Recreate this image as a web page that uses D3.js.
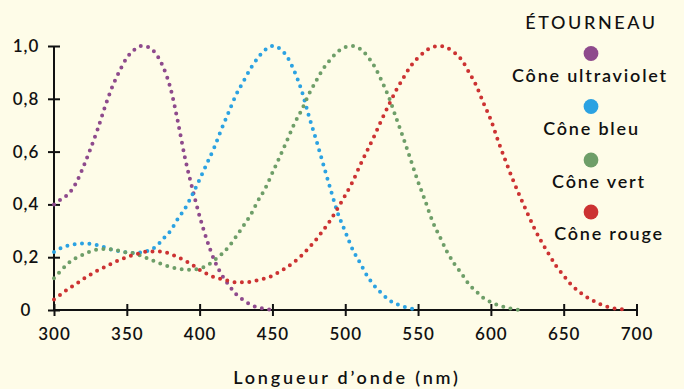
<!DOCTYPE html>
<head>
<meta charset="utf-8">
<script src="https://d3js.org/d3.v7.min.js"></script>
<style>
body {
	margin: 0;
	background: #fefce8;
}
text {
	font-family: Lato, "Noto Sans", sans-serif;
	fill: #111;
}
.axis path, .axis line {
	stroke: #111;
	stroke-width: 2px;
}
.axis text {
	font-size: 17px;
	font-weight: 600;
	letter-spacing: 1px;
}
.curve {
	fill: none;
	stroke-width: 4px;
	stroke-linecap: round;
	stroke-dasharray: 0 7.4;
}
.legend text {
	font-size: 18px;
	font-weight: 600;
	letter-spacing: 1.8px;
	text-anchor: middle;
}
</style>
</head>
<body>
<svg id="chart" width="684" height="389"></svg>
<script>

// wavelengths, 5 nm steps (series stop where they reach zero)
var nm = d3.range(300, 701, 5);

var uv = [0.40, 0.42, 0.44, 0.48, 0.54, 0.61, 0.685, 0.77, 0.845, 0.905, 0.955, 0.985, 1.0, 0.995, 0.97, 0.92,
	0.84, 0.715, 0.575, 0.46, 0.355, 0.265, 0.19, 0.135, 0.095, 0.06, 0.038, 0.02, 0.01, 0.004, 0.0];

var bleu = [0.22, 0.235, 0.245, 0.25, 0.252, 0.25, 0.245, 0.237, 0.228, 0.222, 0.218, 0.216, 0.218, 0.225, 0.24,
	0.27, 0.30, 0.345, 0.385, 0.437, 0.495, 0.555, 0.615, 0.685, 0.75, 0.815, 0.865, 0.915, 0.955, 0.985, 1.0,
	0.99, 0.96, 0.905, 0.832, 0.735, 0.645, 0.55, 0.455, 0.365, 0.297, 0.23, 0.18, 0.13, 0.092, 0.063, 0.038,
	0.023, 0.013, 0.006, 0.002];

var vert = [0.12, 0.15, 0.178, 0.197, 0.21, 0.222, 0.229, 0.231, 0.23, 0.224, 0.218, 0.215, 0.205, 0.194, 0.182,
	0.172, 0.163, 0.157, 0.153, 0.152, 0.158, 0.168, 0.188, 0.211, 0.24, 0.278, 0.318, 0.36, 0.413, 0.46, 0.52,
	0.58, 0.642, 0.705, 0.757, 0.817, 0.868, 0.915, 0.95, 0.979, 0.996, 1.0, 0.99, 0.963, 0.923, 0.868, 0.805,
	0.727, 0.65, 0.568, 0.486, 0.412, 0.335, 0.277, 0.22, 0.174, 0.137, 0.097, 0.07, 0.045, 0.03, 0.018, 0.01,
	0.004, 0.0];

var rouge = [0.04, 0.06, 0.081, 0.098, 0.117, 0.134, 0.15, 0.163, 0.177, 0.19, 0.20, 0.209, 0.217, 0.222, 0.222,
	0.22, 0.212, 0.2, 0.187, 0.171, 0.152, 0.137, 0.124, 0.117, 0.11, 0.105, 0.105, 0.107, 0.113, 0.12, 0.13,
	0.145, 0.162, 0.182, 0.206, 0.235, 0.267, 0.303, 0.342, 0.387, 0.435, 0.485, 0.546, 0.603, 0.66, 0.721, 0.778,
	0.833, 0.88, 0.924, 0.956, 0.98, 0.996, 1.0, 0.993, 0.975, 0.947, 0.9, 0.85, 0.783, 0.72, 0.64, 0.566, 0.495,
	0.43, 0.368, 0.308, 0.256, 0.21, 0.165, 0.13, 0.097, 0.072, 0.052, 0.036, 0.022, 0.012, 0.006, 0.003, 0.001];

var names = ["Cône ultraviolet", "Cône bleu", "Cône vert", "Cône rouge"];
var colors = ["#8e4a8c", "#2ba2e2", "#6e9e68", "#cc3232"];
var xTicks = [300, 350, 400, 450, 500, 550, 600, 650, 700];
var yTicks = [0, 0.2, 0.4, 0.6, 0.8, 1.0];

var svg = d3.select("#chart");

svg.append("rect")
	.attr("width", 684).attr("height", 389)
	.attr("fill", "#fefce8");

var x = d3.scaleLinear().domain([300, 700]).range([54, 636.5]);
var y = d3.scaleLinear().domain([0, 1]).range([310, 46]);

var fmt = d => d === 0 ? "0" : d3.format(".1f")(d).replace(".", ",");

// axes
var gx = svg.append("g")
	.attr("class", "axis")
	.attr("transform", "translate(0," + y(0) + ")")
	.call(d3.axisBottom(x).tickValues(xTicks).tickSizeOuter(0).tickSize(6).tickPadding(12));
gx.selectAll(".tick line").attr("y1", -6);
gx.select(".domain").attr("d", "M" + x(300) + ",0H" + x(700));

var gy = svg.append("g")
	.attr("class", "axis")
	.attr("transform", "translate(" + x(300) + ",0)")
	.call(d3.axisLeft(y).tickValues(yTicks).tickFormat(fmt).tickSizeOuter(0).tickSize(6));
gy.selectAll(".tick line").attr("x1", 6);
gy.selectAll(".tick text").attr("x", -28).attr("text-anchor", "middle");
gy.select(".domain").attr("d", "M0," + y(0) + "V" + y(1));

svg.append("text")
	.attr("x", 347).attr("y", 384)
	.attr("text-anchor", "middle")
	.style("font-size", "18px")
	.style("font-weight", 600)
	.style("letter-spacing", "2.8px")
	.text("Longueur d’onde (nm)");

// curves
var line = d3.line()
	.curve(d3.curveMonotoneX)
	.x((d, i) => x(nm[i]))
	.y(d => y(d));

svg.selectAll(".curve")
	.data([uv, bleu, vert, rouge])
	.enter().append("path")
	.attr("class", "curve")
	.attr("stroke", (d, i) => colors[i])
	.attr("d", d => line(d));

// legend
var lg = svg.append("g").attr("class", "legend");
var dotY = [53.5, 106.5, 160, 212];
var labX = [590, 591.5, 599, 609];

lg.append("text")
	.attr("x", 591.5).attr("y", 28.5)
	.style("font-weight", 500)
	.style("letter-spacing", "2.6px")
	.text("ÉTOURNEAU");

lg.selectAll("circle")
	.data(names)
	.enter().append("circle")
	.attr("cx", 591)
	.attr("cy", (d, i) => dotY[i])
	.attr("r", 7.4)
	.attr("fill", (d, i) => colors[i]);

lg.selectAll(".lab")
	.data(names)
	.enter().append("text")
	.attr("class", "lab")
	.attr("x", (d, i) => labX[i])
	.attr("y", (d, i) => dotY[i] + 28.3)
	.text(d => d);

</script>
</body>
